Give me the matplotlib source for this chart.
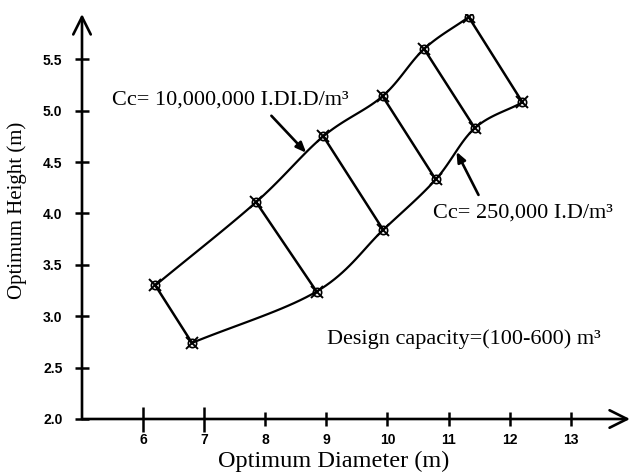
import numpy as np
import matplotlib
matplotlib.use("Agg")
import matplotlib.pyplot as plt

# optimum diameter / height for each design capacity, two unit-cost curves
diam_high = [6.2, 7.85, 8.95, 9.92, 10.6, 11.33]    # Cc = 10,000,000
height_high = [3.30, 4.11, 4.75, 5.14, 5.60, 5.91]
diam_low = [6.8, 8.84, 9.93, 10.79, 11.43, 12.21]   # Cc = 250,000
height_low = [2.74, 3.24, 3.84, 4.33, 4.83, 5.08]

x_ticks = [6, 7, 8, 9, 10, 11, 12, 13]
y_ticks = [2.0, 2.5, 3.0, 3.5, 4.0, 4.5, 5.0, 5.5]

SERIF = "Liberation Serif"
SANS = "Liberation Sans"


def smooth(xs, ys, n=20):
    """Catmull-Rom curve through the given points."""
    p = np.column_stack([xs, ys]).astype(float)
    p = np.vstack([2 * p[0] - p[1], p, 2 * p[-1] - p[-2]])
    out = []
    t = np.linspace(0, 1, n)[:, None]
    for i in range(1, len(p) - 2):
        p0, p1, p2, p3 = p[i - 1], p[i], p[i + 1], p[i + 2]
        seg = 0.5 * ((2 * p1) + (-p0 + p2) * t
                     + (2 * p0 - 5 * p1 + 4 * p2 - p3) * t ** 2
                     + (-p0 + 3 * p1 - 3 * p2 + p3) * t ** 3)
        out.append(seg)
    out = np.vstack(out)
    return out[:, 0], out[:, 1]


fig = plt.figure(figsize=(6.31, 4.72), dpi=100)
ax = fig.add_axes([82 / 631, 53 / 472, 548 / 631, 405 / 472])
ax.set_xlim(5, 13.97)
ax.set_ylim(2, 5.94)
for s in ax.spines.values():
    s.set_visible(False)

# axes drawn as arrows
arrow = dict(arrowstyle="->,head_length=0.9,head_width=0.45", lw=1.9,
             color="black", mutation_scale=14, shrinkA=0, shrinkB=0)
ax.annotate("", xy=(1, 0), xytext=(0, 0), xycoords="axes fraction",
            arrowprops=arrow, annotation_clip=False)
ax.annotate("", xy=(0, 1), xytext=(0, 0), xycoords="axes fraction",
            arrowprops=arrow, annotation_clip=False)

# 6 and 7 carry longer tick marks than the rest
ax.set_xticks([t for t in x_ticks if t >= 8])
ax.set_xticks([6, 7], minor=True)
ax.set_xticklabels([str(t) for t in x_ticks if t >= 8])
ax.set_xticklabels(["6", "7"], minor=True)
ax.tick_params(axis="x", which="major", direction="inout", length=9.5,
               width=1.8, pad=5.0)
ax.tick_params(axis="x", which="minor", direction="inout", length=18,
               width=1.8, pad=0.8)
ax.set_yticks(y_ticks)
ax.set_yticklabels([f"{v:.1f}" for v in y_ticks])
ax.tick_params(axis="y", direction="inout", length=10, width=1.8, pad=9.0)
for lab in ax.get_xticklabels(which="both") + ax.get_yticklabels():
    lab.set_fontfamily(SANS)
    lab.set_fontweight("bold")
    lab.set_fontsize(10)

# curves and connecting segments
for xs, ys in [(diam_high, height_high), (diam_low, height_low)]:
    cx, cy = smooth(xs, ys)
    ax.plot(cx, cy, color="black", lw=1.6, zorder=3)
for x0, y0, x1, y1 in zip(diam_high, height_high, diam_low, height_low):
    ax.plot([x0, x1], [y0, y1], color="black", lw=1.8, zorder=3)

all_x = diam_high + diam_low
all_y = height_high + height_low
ax.plot(all_x, all_y, "o", ms=6, mfc="none", mec="black", mew=1.2, zorder=4)
ax.plot(all_x, all_y, "x", ms=8, color="black", mew=1.4, zorder=4)

# annotations
head = "-|>,head_length=0.6,head_width=0.25"
ax.annotate("", xy=(8.67, 4.59), xytext=(8.1, 4.95),
            arrowprops=dict(arrowstyle=head, lw=1.9, color="black",
                            shrinkA=0, shrinkB=0))
ax.text(5.49, 5.10, "Cc= 10,000,000 I.DI.D/m³", family=SERIF, fontsize=16,
        ha="left", va="center")
ax.annotate("", xy=(11.13, 4.60), xytext=(11.49, 4.18),
            arrowprops=dict(arrowstyle=head, lw=1.9, color="black",
                            shrinkA=0, shrinkB=0))
ax.text(10.74, 4.00, "Cc= 250,000 I.D/m³", family=SERIF, fontsize=16,
        ha="left", va="center")
ax.text(9.01, 2.78, "Design capacity=(100-600) m³", family=SERIF,
        fontsize=16, ha="left", va="center")

fig.text(218 / 631, 1 - 461 / 472, "Optimum Diameter (m)", family=SERIF,
         fontsize=17.5, ha="left", va="center")
fig.text(17 / 631, 1 - 210 / 472, "Optimum Height (m)", family=SERIF,
         fontsize=15, ha="center", va="center", rotation=90)

fig.savefig("out.png", dpi=100)
